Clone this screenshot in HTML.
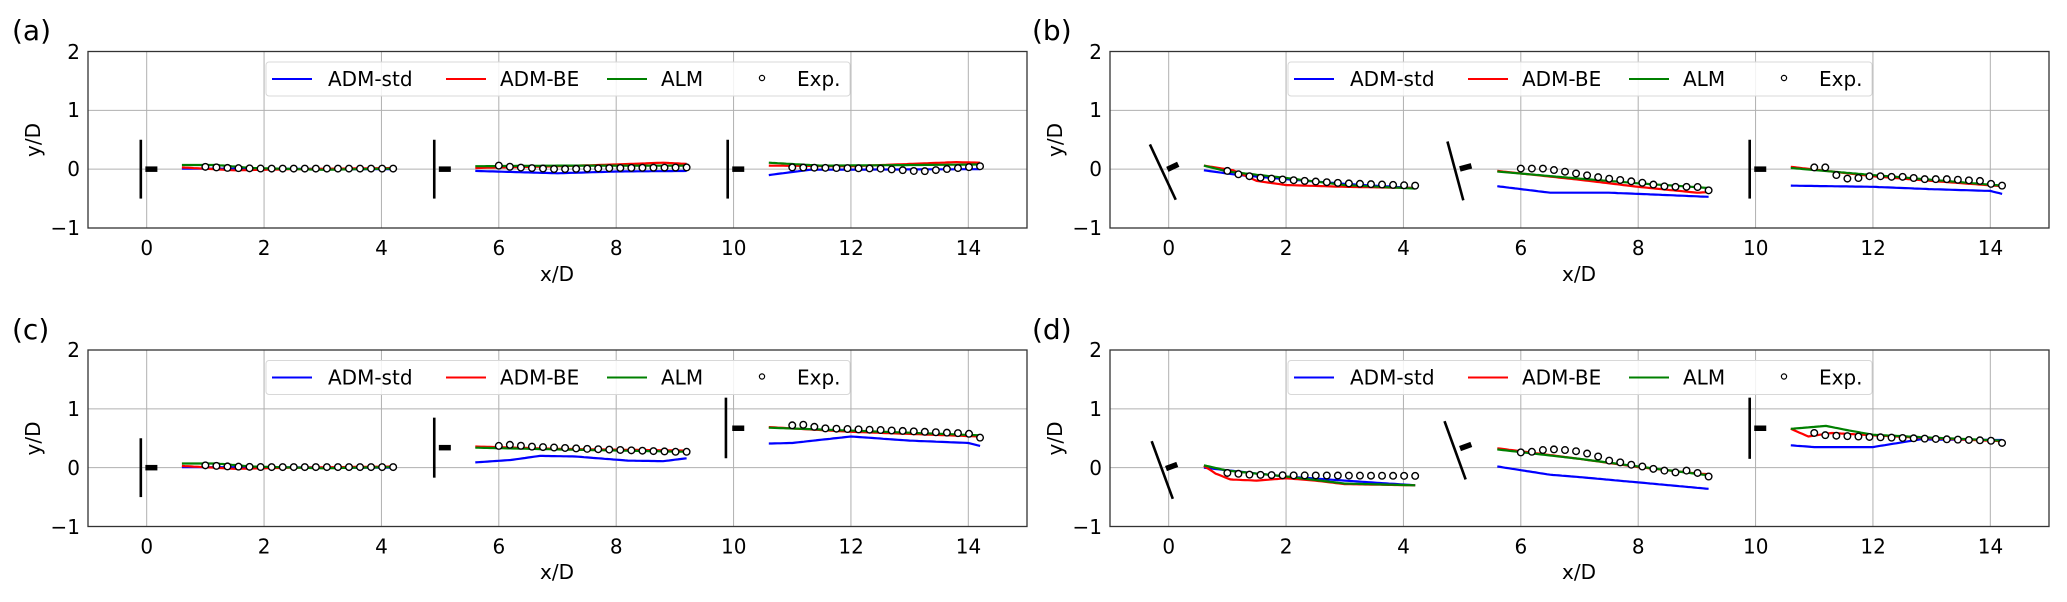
<!DOCTYPE html>
<html><head><meta charset="utf-8"><style>
html,body{margin:0;padding:0;background:#fff;}
svg text{font-family:"DejaVu Sans","Liberation Sans",sans-serif;fill:#000;}
</style></head><body>
<svg id="s" width="2067" height="597" xmlns="http://www.w3.org/2000/svg">
<rect width="2067" height="597" fill="#fff"/>
<g id="plots"></g>
<text x="12" y="40" font-size="28">(a)</text>
<text x="1032" y="40" font-size="28">(b)</text>
<text x="12" y="339" font-size="28">(c)</text>
<text x="1032" y="339" font-size="28">(d)</text>
<g font-size="20" text-anchor="end">
<text x="80" y="59">2</text><text x="80" y="117">1</text><text x="80" y="176">0</text><text x="80" y="235">−1</text>
<text x="80" y="357">2</text><text x="80" y="416">1</text><text x="80" y="475">0</text><text x="80" y="534">−1</text>
<text x="1102" y="59">2</text><text x="1102" y="117">1</text><text x="1102" y="176">0</text><text x="1102" y="235">−1</text>
<text x="1102" y="357">2</text><text x="1102" y="416">1</text><text x="1102" y="475">0</text><text x="1102" y="534">−1</text>
</g>
<g font-size="20" text-anchor="middle">
<g>
<text x="146.7" y="255">0</text><text x="264.1" y="255">2</text><text x="381.5" y="255">4</text><text x="498.9" y="255">6</text><text x="616.3" y="255">8</text><text x="733.7" y="255">10</text><text x="851.1" y="255">12</text><text x="968.5" y="255">14</text>
</g>
<g transform="translate(1022,0)">
<text x="146.7" y="255">0</text><text x="264.1" y="255">2</text><text x="381.5" y="255">4</text><text x="498.9" y="255">6</text><text x="616.3" y="255">8</text><text x="733.7" y="255">10</text><text x="851.1" y="255">12</text><text x="968.5" y="255">14</text>
</g>
<g transform="translate(0,298.5)">
<text x="146.7" y="255">0</text><text x="264.1" y="255">2</text><text x="381.5" y="255">4</text><text x="498.9" y="255">6</text><text x="616.3" y="255">8</text><text x="733.7" y="255">10</text><text x="851.1" y="255">12</text><text x="968.5" y="255">14</text>
</g>
<g transform="translate(1022,298.5)">
<text x="146.7" y="255">0</text><text x="264.1" y="255">2</text><text x="381.5" y="255">4</text><text x="498.9" y="255">6</text><text x="616.3" y="255">8</text><text x="733.7" y="255">10</text><text x="851.1" y="255">12</text><text x="968.5" y="255">14</text>
</g>
<text x="557" y="281">x/D</text><text x="1579" y="281">x/D</text>
<text x="557" y="579">x/D</text><text x="1579" y="579">x/D</text>
<text transform="translate(40,140) rotate(-90)">y/D</text>
<text transform="translate(1062,140) rotate(-90)">y/D</text>
<text transform="translate(40,438.5) rotate(-90)">y/D</text>
<text transform="translate(1062,438.5) rotate(-90)">y/D</text>
</g>
<g id="legs" font-size="20">
<g transform="translate(266,62)">
<rect x="0" y="0" width="584" height="34" rx="3" fill="#fff" fill-opacity="0.85" stroke="#d8d8d8"/>
<line x1="6" y1="17" x2="46" y2="17" stroke="#0000ff" stroke-width="2"/><text x="62" y="24">ADM-std</text>
<line x1="180" y1="17" x2="220" y2="17" stroke="#ff0000" stroke-width="2"/><text x="234" y="24">ADM-BE</text>
<line x1="341" y1="17" x2="381" y2="17" stroke="#008000" stroke-width="2"/><text x="395" y="24">ALM</text>
<circle cx="496" cy="16" r="2.6" fill="#fff" stroke="#000" stroke-width="1.2"/><text x="531" y="24">Exp.</text>
</g>
<g transform="translate(1288,62)">
<rect x="0" y="0" width="584" height="34" rx="3" fill="#fff" fill-opacity="0.85" stroke="#d8d8d8"/>
<line x1="6" y1="17" x2="46" y2="17" stroke="#0000ff" stroke-width="2"/><text x="62" y="24">ADM-std</text>
<line x1="180" y1="17" x2="220" y2="17" stroke="#ff0000" stroke-width="2"/><text x="234" y="24">ADM-BE</text>
<line x1="341" y1="17" x2="381" y2="17" stroke="#008000" stroke-width="2"/><text x="395" y="24">ALM</text>
<circle cx="496" cy="16" r="2.6" fill="#fff" stroke="#000" stroke-width="1.2"/><text x="531" y="24">Exp.</text>
</g>
<g transform="translate(266,360.5)">
<rect x="0" y="0" width="584" height="34" rx="3" fill="#fff" fill-opacity="0.85" stroke="#d8d8d8"/>
<line x1="6" y1="17" x2="46" y2="17" stroke="#0000ff" stroke-width="2"/><text x="62" y="24">ADM-std</text>
<line x1="180" y1="17" x2="220" y2="17" stroke="#ff0000" stroke-width="2"/><text x="234" y="24">ADM-BE</text>
<line x1="341" y1="17" x2="381" y2="17" stroke="#008000" stroke-width="2"/><text x="395" y="24">ALM</text>
<circle cx="496" cy="16" r="2.6" fill="#fff" stroke="#000" stroke-width="1.2"/><text x="531" y="24">Exp.</text>
</g>
<g transform="translate(1288,360.5)">
<rect x="0" y="0" width="584" height="34" rx="3" fill="#fff" fill-opacity="0.85" stroke="#d8d8d8"/>
<line x1="6" y1="17" x2="46" y2="17" stroke="#0000ff" stroke-width="2"/><text x="62" y="24">ADM-std</text>
<line x1="180" y1="17" x2="220" y2="17" stroke="#ff0000" stroke-width="2"/><text x="234" y="24">ADM-BE</text>
<line x1="341" y1="17" x2="381" y2="17" stroke="#008000" stroke-width="2"/><text x="395" y="24">ALM</text>
<circle cx="496" cy="16" r="2.6" fill="#fff" stroke="#000" stroke-width="1.2"/><text x="531" y="24">Exp.</text>
</g>
</g>
</svg>
<script>
(function(){
var NS="http://www.w3.org/2000/svg";
var plots=document.getElementById('plots');
var legs=document.getElementById('legs');
function el(n,a,p){var e=document.createElementNS(NS,n);for(var k in a)e.setAttribute(k,a[k]);(p||plots).appendChild(e);return e;}
function interp(pts,x){if(x<=pts[0][0])return pts[0][1];for(var i=1;i<pts.length;i++){if(x<=pts[i][0]){var a=pts[i-1],b=pts[i];return a[1]+(b[1]-a[1])*(x-a[0])/(b[0]-a[0]);}}return pts[pts.length-1][1];}
function panel(L,T,D){
  var R=L+939,B=T+176.5,sx=(R-L)/16,sy=(B-T)/3;
  function X(x){return L+(x+1)*sx;} function Y(y){return T+(2-y)*sy;}
  var g=el('g',{});
  for(var x=0;x<=14;x+=2)el('line',{x1:X(x),x2:X(x),y1:T,y2:B,stroke:'#b0b0b0','stroke-width':1},g);
  for(var y=-1;y<=2;y++)el('line',{x1:L,x2:R,y1:Y(y),y2:Y(y),stroke:'#b0b0b0','stroke-width':1},g);
  D.turb.forEach(function(t){
    el('line',{x1:X(t[0]),y1:Y(t[1]),x2:X(t[2]),y2:Y(t[3]),stroke:'#000','stroke-width':2.6},g);
    var px1=X(t[0]),py1=Y(t[1]),px2=X(t[2]),py2=Y(t[3]);
    var dx=px2-px1,dy=py2-py1,l=Math.hypot(dx,dy);var nx=dy/l,ny=-dx/l; if(nx<0){nx=-nx;ny=-ny;}
    var cx=X(t[4]),cy=Y(t[5]);
    el('line',{x1:cx-6*nx,y1:cy-6*ny,x2:cx+6*nx,y2:cy+6*ny,stroke:'#000','stroke-width':5.5},g);
  });
  var cols={b:'#0000ff',r:'#ff0000',g:'#008000'};
  D.segs.forEach(function(s){
    ['b','r','g'].forEach(function(k){
      var p=s[k],d='';
      for(var x=s.x0;x<=s.x0+3.6001;x+=0.05){d+=(d?'L':'M')+X(x).toFixed(1)+','+Y(interp(p,x)).toFixed(1);}
      el('path',{d:d,fill:'none',stroke:cols[k],'stroke-width':2.2},g);
    });
  });
  D.segs.forEach(function(s){
    for(var i=0;i<18;i++){var x=s.x0+0.4+i*3.2/17;var y=s.e?s.e[i]:interp(s.ep,x);
      el('circle',{cx:X(x),cy:Y(y),r:3.3,fill:'#fff',stroke:'#000','stroke-width':1.4},g);}
  });
  el('rect',{x:L,y:T,width:R-L,height:B-T,fill:'none',stroke:'#333','stroke-width':1.3},g);
}
var st=[[-0.1,0.5,-0.1,-0.5,0.08,0],[4.9,0.5,4.9,-0.5,5.08,0],[9.9,0.5,9.9,-0.5,10.08,0]];
var A={turb:st,segs:[
 {x0:0.6,b:[[0.6,0.01],[4.2,0.0]],r:[[0.6,0.03],[1.5,-0.02],[2.5,0.0],[4.2,0.02]],g:[[0.6,0.07],[1.2,0.07],[1.8,0.02],[3,-0.01],[4.2,0.01]],ep:[[1,0.04],[1.4,0.02],[2,0.01],[4.2,0.01]]},
 {x0:5.6,b:[[5.6,-0.03],[7,-0.07],[8,-0.04],[9.2,-0.03]],r:[[5.6,0.02],[7,0.05],[8,0.08],[8.8,0.11],[9.2,0.09]],g:[[5.6,0.05],[7,0.06],[9.2,0.06]],ep:[[6,0.06],[6.3,0.03],[7,0.0],[8,0.02],[9.2,0.03]]},
 {x0:10.6,b:[[10.6,-0.1],[11.3,-0.01],[14.2,0.0]],r:[[10.6,0.06],[12,0.05],[13.8,0.12],[14.2,0.11]],g:[[10.6,0.11],[11.5,0.06],[13,0.07],[14.2,0.08]],ep:[[11,0.03],[12.5,0.01],[13.2,-0.04],[13.6,0.0],[14.2,0.05]]}]};
var Bd={turb:[[-0.32,0.42,0.12,-0.52,0.07,0.04],[4.75,0.47,5.02,-0.53,5.06,0.03],[9.9,0.5,9.9,-0.5,10.08,0]],segs:[
 {x0:0.6,b:[[0.6,-0.02],[1.2,-0.1],[2,-0.17],[3,-0.25],[4.2,-0.32]],r:[[0.6,0.06],[1.1,-0.02],[1.5,-0.2],[2,-0.27],[3,-0.3],[4.2,-0.32]],g:[[0.6,0.06],[1,-0.04],[2,-0.15],[3,-0.27],[4.2,-0.33]],ep:[[1,-0.03],[1.2,-0.09],[1.5,-0.14],[2,-0.18],[3,-0.24],[4.2,-0.28]]},
 {x0:5.6,b:[[5.6,-0.29],[6.5,-0.4],[7.5,-0.4],[8,-0.42],[9.2,-0.47]],r:[[5.6,-0.03],[7,-0.18],[8,-0.3],[9,-0.4],[9.2,-0.39]],g:[[5.6,-0.04],[7,-0.16],[8,-0.24],[9.2,-0.32]],ep:[[6,0.01],[6.4,0.01],[6.8,-0.05],[7.4,-0.15],[8,-0.22],[8.5,-0.3],[9,-0.3],[9.2,-0.36]]},
 {x0:10.6,b:[[10.6,-0.28],[12,-0.3],[13,-0.34],[14,-0.37],[14.2,-0.42]],r:[[10.6,0.04],[12,-0.12],[13,-0.2],[14.2,-0.29]],g:[[10.6,0.02],[12,-0.1],[13,-0.18],[14.2,-0.28]],e:[0.03,0.03,-0.1,-0.16,-0.15,-0.12,-0.12,-0.13,-0.13,-0.15,-0.17,-0.17,-0.17,-0.18,-0.19,-0.2,-0.25,-0.28]}]};
var C={turb:[[-0.1,0.5,-0.1,-0.5,0.08,0],[4.9,0.85,4.9,-0.17,5.08,0.34],[9.87,1.19,9.87,0.16,10.08,0.67]],segs:[
 A.segs[0],
 {x0:5.6,b:[[5.6,0.09],[6.2,0.13],[6.7,0.2],[7.3,0.19],[8.2,0.12],[8.8,0.11],[9.2,0.16]],r:[[5.6,0.36],[7,0.32],[9.2,0.29]],g:[[5.6,0.34],[7,0.31],[9.2,0.27]],ep:[[6,0.37],[6.2,0.39],[6.5,0.36],[7.5,0.32],[9,0.27],[9.2,0.27]]},
 {x0:10.6,b:[[10.6,0.41],[11,0.42],[12,0.53],[13,0.46],[14,0.42],[14.2,0.37]],r:[[10.6,0.69],[12,0.61],[14.2,0.53]],g:[[10.6,0.68],[12,0.63],[14.2,0.55]],ep:[[11,0.72],[11.2,0.73],[11.5,0.67],[12.5,0.64],[14,0.58],[14.2,0.51]]}]};
var Dd={turb:[[-0.29,0.45,0.07,-0.53,0.05,0.02],[4.7,0.79,5.06,-0.2,5.06,0.36],[9.9,1.19,9.9,0.15,10.08,0.67]],segs:[
 {x0:0.6,b:[[0.6,0.0],[1.5,-0.1],[2,-0.15],[3,-0.22],[4.2,-0.3]],r:[[0.6,0.03],[0.8,-0.1],[1.05,-0.2],[1.5,-0.22],[2,-0.18],[2.5,-0.22],[3,-0.28],[4.2,-0.3]],g:[[0.6,0.04],[1,-0.05],[2,-0.15],[3,-0.27],[4.2,-0.3]],ep:[[1,-0.09],[1.4,-0.12],[2,-0.13],[4.2,-0.14]]},
 {x0:5.6,b:[[5.6,0.02],[6.5,-0.12],[7,-0.16],[8,-0.25],[9.2,-0.36]],r:[[5.6,0.33],[7,0.15],[8,0.01],[9,-0.1],[9.2,-0.11]],g:[[5.6,0.31],[7,0.15],[8,0.02],[9.2,-0.13]],e:[0.26,0.27,0.3,0.31,0.3,0.28,0.24,0.19,0.12,0.09,0.05,0.02,-0.02,-0.05,-0.08,-0.05,-0.09,-0.15]},
 {x0:10.6,b:[[10.6,0.38],[11,0.35],[12,0.35],[12.8,0.48],[14.2,0.47]],r:[[10.6,0.66],[10.9,0.53],[11.3,0.59],[12,0.55],[13,0.5],[14.2,0.45]],g:[[10.6,0.66],[11.2,0.71],[11.6,0.63],[12,0.56],[13,0.51],[14.2,0.46]],ep:[[11,0.59],[11.2,0.55],[12,0.52],[13,0.49],[14,0.46],[14.2,0.42]]}]};
panel(88,51.5,A);panel(1110,51.5,Bd);panel(88,350,C);panel(1110,350,Dd);
plots.parentNode.appendChild(legs);
})();
</script>
</body></html>
